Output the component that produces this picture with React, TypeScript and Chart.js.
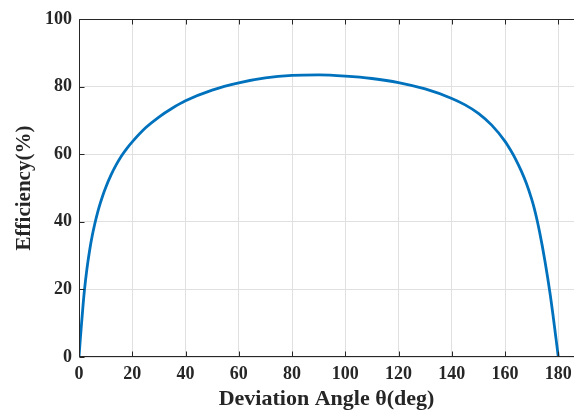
import React, { useEffect, useRef } from "react";
import { Chart, registerables } from "chart.js";

Chart.register(...registerables);

const angles = [
  0, 0.5, 1, 1.5, 2, 3, 4, 5, 6, 7, 8, 9, 10, 12, 14, 16, 18, 20, 25, 30, 35, 40, 50, 60, 70, 80, 90,
  100, 110, 120, 130, 140, 145, 150, 155, 160, 162, 164, 166, 168, 170, 171, 172, 173, 174, 175, 176,
  177, 178, 179, 179.5, 180,
];
const efficiency = [
  0, 5.4, 10.3, 15.1, 19.4, 26.2, 31.6, 36.0, 39.65, 42.8, 45.5, 47.95, 50.1, 53.8, 56.9, 59.55,
  61.75, 63.65, 67.8, 71.0, 73.6, 75.8, 78.95, 81.1, 82.55, 83.3, 83.45, 83.1, 82.4, 81.2, 79.3, 76.5,
  74.6, 72.1, 68.6, 63.8, 61.3, 58.5, 55.2, 51.4, 46.7, 43.9, 40.6, 36.9, 32.8, 28.3, 23.5, 18.3,
  12.5, 6.3, 3.2, 0,
];
const xTicks = [0, 20, 40, 60, 80, 100, 120, 140, 160, 180];
const yTicks = [0, 20, 40, 60, 80, 100];

const FONT = "'Liberation Serif', 'Times New Roman', serif";
const TEXT = "#262626";

const boxPlugin = {
  id: "matlabBox",
  afterDatasetsDraw(chart: any) {
    const { ctx, chartArea, scales } = chart;
    const { left, right, top, bottom } = chartArea;
    const L = Math.round(left) + 0.5;
    const B = Math.round(bottom) - 0.5;
    const T = Math.round(top) + 0.5;
    ctx.save();
    ctx.strokeStyle = "#262626";
    ctx.lineWidth = 1;
    ctx.beginPath();
    ctx.moveTo(L, T);
    ctx.lineTo(L, B);
    ctx.lineTo(right, B);
    ctx.moveTo(L, T);
    ctx.lineTo(right, T);
    const tl = 5;
    for (const v of xTicks) {
      const px = Math.round(scales.x.getPixelForValue(v)) + 0.5;
      ctx.moveTo(px, B);
      ctx.lineTo(px, B - tl);
      ctx.moveTo(px, T);
      ctx.lineTo(px, T + tl);
    }
    for (const v of yTicks) {
      const py = Math.round(scales.y.getPixelForValue(v)) + 0.5;
      ctx.moveTo(L, py);
      ctx.lineTo(L + tl, py);
    }
    ctx.stroke();
    ctx.restore();
  },
};

export default function App() {
  const ref = useRef<HTMLCanvasElement>(null);
  useEffect(() => {
    if (!ref.current) return;
    const chart = new Chart(ref.current, {
      type: "line",
      data: {
        datasets: [
          {
            data: angles.map((a, i) => ({ x: a, y: efficiency[i] })),
            borderColor: "#0072BD",
            borderWidth: 2.8,
            pointRadius: 0,
            cubicInterpolationMode: "monotone",
            fill: false,
          },
        ],
      },
      options: {
        animation: false,
        responsive: false,
        maintainAspectRatio: false,
        layout: { padding: { top: 19, right: 0, left: 0, bottom: 0 } },
        plugins: { legend: { display: false }, tooltip: { enabled: false } },
        scales: {
          x: {
            type: "linear",
            min: 0,
            max: 185.9,
            afterBuildTicks: (s: any) => {
              s.ticks = xTicks.map((v) => ({ value: v }));
            },
            afterFit: (s: any) => {
              s.height = 57;
              s.paddingLeft = 0;
              s.paddingRight = 0;
            },
            grid: { color: "#e0e0e0", lineWidth: 1, drawTicks: false },
            border: { display: false },
            ticks: {
              autoSkip: false,
              maxRotation: 0,
              padding: 7,
              color: TEXT,
              font: { family: FONT, size: 18, weight: "bold" },
            },
            title: {
              display: true,
              text: "Deviation Angle θ(deg)",
              color: TEXT,
              font: { family: FONT, size: 22, weight: "bold" },
              padding: { top: 0, bottom: 1 },
            },
          },
          y: {
            type: "linear",
            min: 0,
            max: 100,
            afterBuildTicks: (s: any) => {
              s.ticks = yTicks.map((v) => ({ value: v }));
            },
            afterFit: (s: any) => {
              s.width = 79;
            },
            grid: { color: "#e0e0e0", lineWidth: 1, drawTicks: false },
            border: { display: false },
            ticks: {
              padding: 7,
              color: TEXT,
              font: { family: FONT, size: 18, weight: "bold" },
            },
            title: {
              display: true,
              text: "Efficiency(%)",
              color: TEXT,
              font: { family: FONT, size: 21, weight: "bold" },
              padding: { top: 12, bottom: 0 },
            },
          },
        },
      },
      plugins: [boxPlugin],
    });
    return () => chart.destroy();
  }, []);
  return (
    <div style={{ position: "fixed", left: 0, top: 0, width: 574, height: 414, background: "#fff" }}>
      <canvas ref={ref} width={574} height={414} />
    </div>
  );
}
